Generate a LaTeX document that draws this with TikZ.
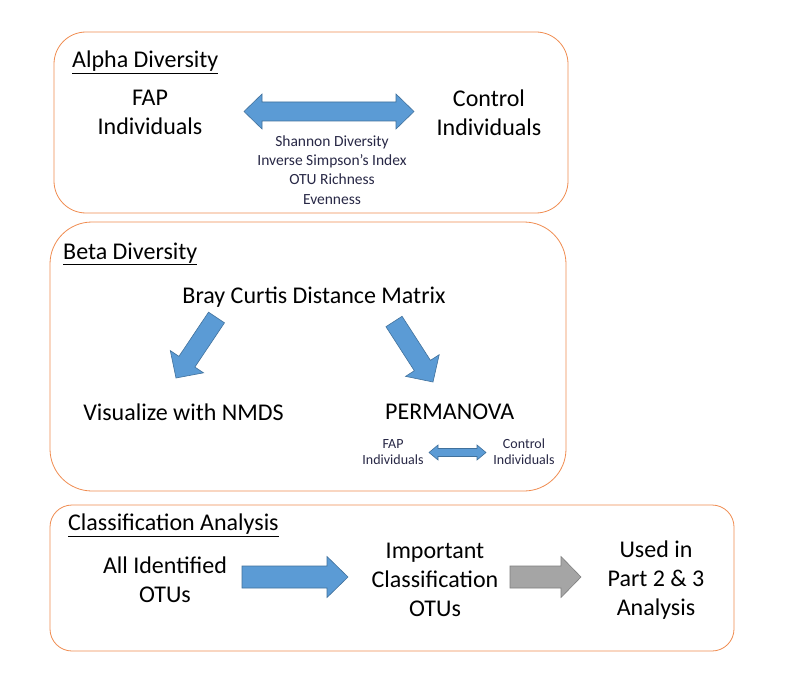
\documentclass[tikz,border=0pt]{standalone}
\usepackage{fontspec}
\setmainfont{Carlito}
\usetikzlibrary{calc}
\definecolor{boxorange}{RGB}{240,140,80}
\definecolor{arrblue}{RGB}{91,155,213}
\definecolor{arrblueedge}{RGB}{65,113,156}
\definecolor{arrgray}{RGB}{165,165,165}
\definecolor{arrgrayedge}{RGB}{127,127,127}
\definecolor{smalltext}{RGB}{40,40,70}
\newcommand\fatarrow[6]{%
  \path (#1) coordinate (fa-t) (#2) coordinate (fa-p) ($(fa-p)!#5!(fa-t)$) coordinate (fa-h);
  \draw[#6] ($(fa-t)!#3!90:(fa-p)$) -- ($(fa-h)!#3!90:(fa-p)$) -- ($(fa-h)!#4!90:(fa-p)$) -- (fa-p)
    -- ($(fa-h)!#4!-90:(fa-p)$) -- ($(fa-h)!#3!-90:(fa-p)$) -- ($(fa-t)!#3!-90:(fa-p)$) -- cycle;}
\newcommand\dblarrow[6]{%
  \path ($(#1)!#5!(#2)$) coordinate (da-1) ($(#2)!#5!(#1)$) coordinate (da-2);
  \draw[#6] (#1) -- ($(da-1)!#4!90:(#2)$) -- ($(da-1)!#3!90:(#2)$) -- ($(da-2)!#3!-90:(#1)$)
    -- ($(da-2)!#4!-90:(#1)$) -- (#2) -- ($(da-2)!#4!90:(#1)$) -- ($(da-2)!#3!90:(#1)$)
    -- ($(da-1)!#3!-90:(#2)$) -- ($(da-1)!#4!-90:(#2)$) -- cycle;}
\tikzset{
  panel/.style={draw=boxorange, line width=0.8pt},
  title/.style={anchor=base west, inner sep=0pt, font=\fontsize{24}{28}\selectfont},
  big/.style={align=center, inner sep=0pt, font=\fontsize{24}{29}\selectfont},
  small/.style={align=center, inner sep=0pt, text=smalltext, font=\fontsize{15.5}{19.3}\selectfont},
  tiny/.style={align=center, inner sep=0pt, text=smalltext, font=\fontsize{14}{16}\selectfont},
  bluearrow/.style={fill=arrblue, draw=arrblueedge, line width=0.6pt, line join=miter},
  grayarrow/.style={fill=arrgray, draw=arrgrayedge, line width=0.6pt, line join=miter},
}
\begin{document}
\begin{tikzpicture}[x=1pt, y=-1pt]
\useasboundingbox (0,0) rectangle (800,674);
\fill[white] (0,0) rectangle (800,674);
% panels
\draw[panel, rounded corners=32pt] (54,32) rectangle (568,213);
\draw[panel, rounded corners=42pt] (50,222) rectangle (566,491);
\draw[panel, rounded corners=22pt] (50,505) rectangle (734,651);
% Alpha diversity
\node[title] (ta) at (72,68) {\underline{Alpha Diversity}};
\node[big] (fap) at (150,112.5) {FAP\\Individuals};
\node[big] (ctl) at (489,112.5) {Control\\Individuals};
\coordinate (aL) at (244,111.5);
\coordinate (aR) at (414,111.5);
\dblarrow{aL}{aR}{9.5pt}{17.5pt}{18pt}{bluearrow}
\node[small] (metrics) at (332,170) {Shannon Diversity\\Inverse Simpson’s Index\\OTU Richness\\Evenness};
% Beta diversity
\node[title] (tb) at (63,259) {\underline{Beta Diversity}};
\node[big] (bray) at (314,297) {Bray Curtis Distance Matrix};
\node[big] (nmds) at (183.5,412) {Visualize with NMDS};
\node[big] (perm) at (449.7,412) {PERMANOVA};
\coordinate (b1t) at (216.5,317.5);
\coordinate (b1p) at (176,378);
\coordinate (b2t) at (394,321.5);
\coordinate (b2p) at (433,382);
\fatarrow{b1t}{b1p}{9.6pt}{20pt}{19.6pt}{bluearrow}
\fatarrow{b2t}{b2p}{9.6pt}{20pt}{19.6pt}{bluearrow}
\node[tiny] (sfap) at (393,452) {FAP\\Individuals};
\node[tiny] (sctl) at (524,452) {Control\\Individuals};
\coordinate (sL) at (429,452.5);
\coordinate (sR) at (486,452.5);
\dblarrow{sL}{sR}{4pt}{7.5pt}{9pt}{bluearrow}
% Classification
\node[title] (tc) at (68,530.5) {\underline{Classification Analysis}};
\node[big] (all) at (165,579.5) {All Identified\\OTUs};
\node[big] (imp) at (435,580) {Important\\Classification\\OTUs};
\node[big] (used) at (656,580) {Used in\\Part 2 \& 3\\Analysis};
\coordinate (c1t) at (242,577);
\coordinate (c1p) at (348,577);
\coordinate (c2t) at (510,577);
\coordinate (c2p) at (581,577);
\fatarrow{c1t}{c1p}{11pt}{20.5pt}{21pt}{bluearrow}
\fatarrow{c2t}{c2p}{11pt}{20.5pt}{20pt}{grayarrow}
\end{tikzpicture}
\end{document}
